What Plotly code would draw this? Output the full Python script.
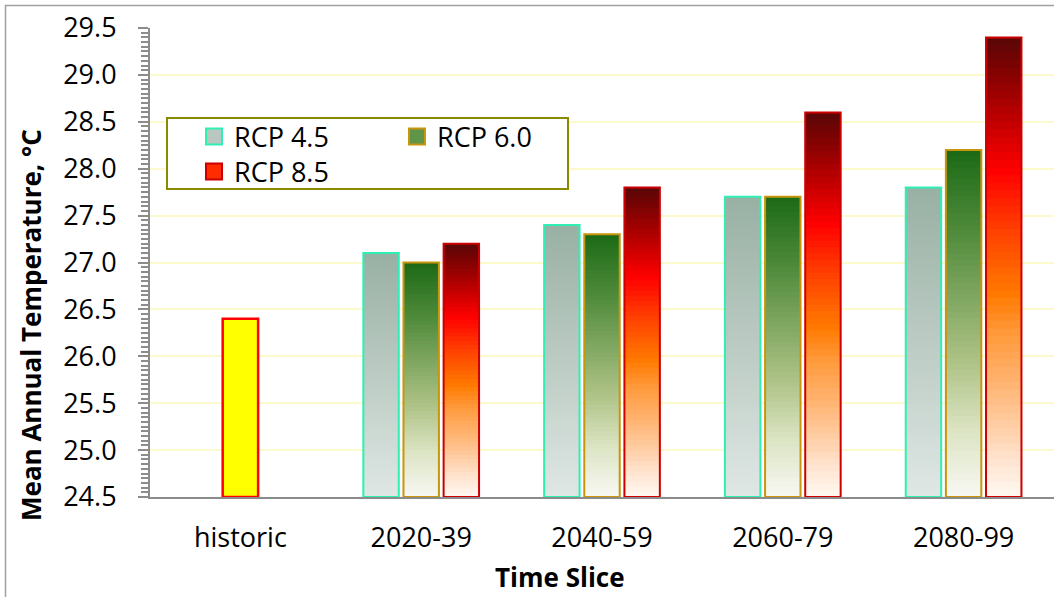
import plotly.graph_objects as go

# ---- data -------------------------------------------------------------
categories = ["historic", "2020-39", "2040-59", "2060-79", "2080-99"]
historic = [26.4, None, None, None, None]
rcp45 = [None, 27.1, 27.4, 27.7, 27.8]
rcp60 = [None, 27.0, 27.3, 27.7, 28.2]
rcp85 = [None, 27.2, 27.8, 28.6, 29.4]
y_floor = 24.5
y_top = 29.5

# ---- styling ----------------------------------------------------------
FONT = "Open Sans"
BAR_W = 0.196
N_STEPS = 60

# gradient stops, bottom (0) -> top (1)
grad45 = [(0.0, "#dfe7e4"), (0.5, "#bccbc4"), (1.0, "#98b0a3")]
grad60 = [(0.0, "#f8f8f3"), (0.19, "#dce4c4"), (0.38, "#b0c488"),
          (0.58, "#7fa660"), (0.77, "#4e8a3a"), (1.0, "#1c6a16")]
grad85 = [(0.0, "#fff8f2"), (0.07, "#ffe6d4"), (0.22, "#ffbb80"),
          (0.36, "#ff9838"), (0.44, "#ff7a00"), (0.58, "#ff4000"),
          (0.71, "#ff0000"), (0.86, "#a80000"), (1.0, "#580606")]


def hex2rgb(h):
    h = h.lstrip("#")
    return tuple(int(h[i:i + 2], 16) for i in (0, 2, 4))


def grad_color(stops, t):
    for (t0, c0), (t1, c1) in zip(stops[:-1], stops[1:]):
        if t <= t1:
            u = 0 if t1 == t0 else (t - t0) / (t1 - t0)
            a, b = hex2rgb(c0), hex2rgb(c1)
            r = [round(a[i] + (b[i] - a[i]) * u) for i in range(3)]
            return f"rgb({r[0]},{r[1]},{r[2]})"
    r = hex2rgb(stops[-1][1])
    return f"rgb({r[0]},{r[1]},{r[2]})"


series = [
    ("RCP 4.5", rcp45, grad45, "#2ef0b4", -0.32, "legend", 0.55),
    ("RCP 6.0", rcp60, grad60, "#c8960c", -0.098, "legend", 0.7),
    ("RCP 8.5", rcp85, grad85, "#cc0000", 0.124, "legend2", 0.62),
]

fig = go.Figure()

# gradient fill: nested bars from the floor, tallest first, each shorter one
# painted over the lower part of the previous one
for name, vals, stops, edge, off, lg, sw in series:
    for k in range(N_STEPS - 1, -1, -1):
        frac_top = (k + 1) / N_STEPS
        heights = [None if v is None else (v - y_floor) * frac_top for v in vals]
        fig.add_trace(go.Bar(
            x=categories, y=heights, base=y_floor,
            width=BAR_W, offset=off,
            marker=dict(color=grad_color(stops, (k + 0.5) / N_STEPS),
                        line=dict(width=0)),
            showlegend=False, hoverinfo="skip",
        ))

# outlines on top
for name, vals, stops, edge, off, lg, sw in series:
    fig.add_trace(go.Bar(
        x=categories, y=[None if v is None else v - y_floor for v in vals],
        base=y_floor, width=BAR_W, offset=off,
        marker=dict(color="rgba(0,0,0,0)", line=dict(color=edge, width=2)),
        showlegend=False, name=name,
    ))

# historic bar
fig.add_trace(go.Bar(
    x=categories, y=[None if v is None else v - y_floor for v in historic],
    base=y_floor, width=BAR_W, offset=-0.098,
    marker=dict(color="#ffff00", line=dict(color="#ff0000", width=2.5)),
    showlegend=False, name="historic",
))

# legend entries (square swatches)
for name, vals, stops, edge, off, lg, sw in series:
    fig.add_trace(go.Scatter(
        x=[None], y=[None], name=name, legend=lg, mode="markers",
        marker=dict(symbol="square", size=16, color=grad_color(stops, sw),
                    line=dict(color=edge, width=2)),
        showlegend=True,
    ))

W, H = 1054, 597
ML, MT, MB, MR = 150, 28, 100, 0
pw, ph = W - ML - MR, H - MT - MB


def px_x(x):
    return (x - ML) / pw


def px_y(y):
    return (H - MB - y) / ph


legend_common = dict(
    orientation="h", xanchor="left", yanchor="middle",
    entrywidth=158, entrywidthmode="pixels",
    bgcolor="rgba(0,0,0,0)", borderwidth=0,
    font=dict(family=FONT, size=27, color="black"),
    traceorder="normal",
)

fig.update_layout(
    width=W, height=H,
    margin=dict(l=ML, r=MR, t=MT, b=MB, pad=0),
    paper_bgcolor="white", plot_bgcolor="white",
    barmode="overlay",
    font=dict(family=FONT, size=27, color="black"),
    showlegend=True,
    legend=dict(x=px_x(194), y=px_y(137), **legend_common),
    legend2=dict(x=px_x(194), y=px_y(172), **legend_common),
    xaxis=dict(
        type="category", showline=True, linecolor="#8c8c8c", linewidth=2,
        ticks="", showgrid=False, tickfont=dict(size=27),
        ticklabelstandoff=16,
    ),
    yaxis=dict(
        range=[y_floor, y_top], dtick=0.5, tick0=y_floor, tickformat=".1f",
        showline=True, linecolor="#8c8c8c", linewidth=2,
        ticks="outside", ticklen=10, tickwidth=2, tickcolor="#8c8c8c",
        minor=dict(dtick=0.05, ticks="outside", ticklen=7, tickwidth=1.5,
                   tickcolor="#8c8c8c", showgrid=False),
        showgrid=True, gridcolor="#fcf9cc", gridwidth=2,
        zeroline=False, tickfont=dict(size=27), ticklabelstandoff=16,
    ),
    annotations=[
        dict(text="<b>Mean Annual Temperature, °C</b>", textangle=-90,
             xref="paper", yref="paper", x=px_x(31), y=px_y(325),
             showarrow=False, font=dict(size=26), xanchor="center", yanchor="middle"),
        dict(text="<b>Time Slice</b>",
             xref="paper", yref="paper", x=px_x(560), y=px_y(577),
             showarrow=False, font=dict(size=26), xanchor="center", yanchor="middle"),
    ],
    shapes=[
        # legend box
        dict(type="rect", xref="paper", yref="paper",
             x0=px_x(167), x1=px_x(568), y0=px_y(189), y1=px_y(118),
             line=dict(color="#8a8a00", width=2), fillcolor="white",
             layer="above"),
        # chart frame
        dict(type="rect", xref="paper", yref="paper",
             x0=px_x(5.5), x1=px_x(W + 20), y0=px_y(H + 20), y1=px_y(5.5),
             line=dict(color="#a0a0a0", width=1.5), fillcolor="rgba(0,0,0,0)",
             layer="above"),
    ],
)

fig.write_html("out.html")
